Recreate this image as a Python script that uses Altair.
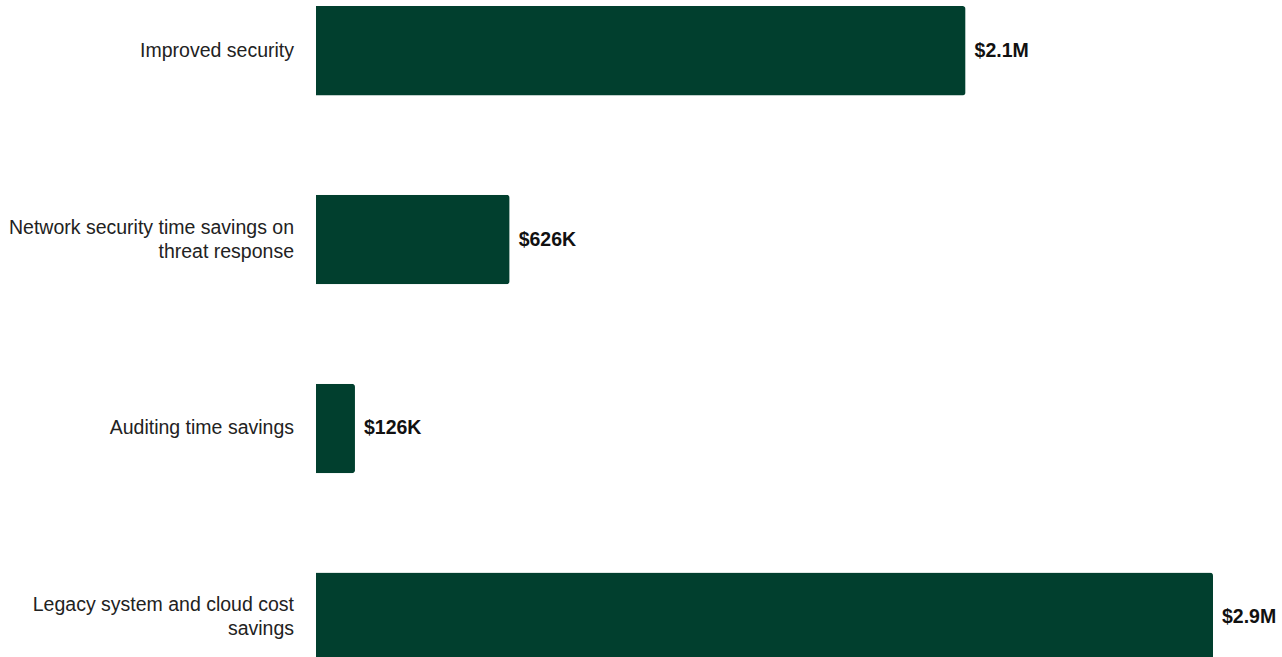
import altair as alt
import pandas as pd

categories = [
    "Improved security",
    "Network security time savings on\nthreat response",
    "Auditing time savings",
    "Legacy system and cloud cost\nsavings",
]
values = [2100000, 626000, 126000, 2900000]
value_labels = ["$2.1M", "$626K", "$126K", "$2.9M"]

df = pd.DataFrame({"category": categories, "value": values, "label": value_labels})
df["lines"] = df["category"].str.count("\n") + 1

y_enc = alt.Y(
    "category:N",
    sort=categories,
    axis=None,
    scale=alt.Scale(paddingInner=0.526, paddingOuter=0.032),
)

bars = alt.Chart(df).mark_bar(color="#013F2E", cornerRadiusEnd=3).encode(
    x=alt.X("value:Q", axis=None, scale=alt.Scale(domain=[0, 2900000], nice=False)),
    y=y_enc,
)

vals = alt.Chart(df).mark_text(
    align="left", baseline="middle", dx=9, fontSize=19.5, fontWeight="bold",
    font="Liberation Sans", color="#111111",
).encode(
    x=alt.X("value:Q"),
    y=y_enc,
    text="label:N",
)

cat_one = alt.Chart(df).transform_filter("datum.lines == 1").mark_text(
    align="right", baseline="middle", fontSize=19.5, font="Liberation Sans",
    color="#222222", lineBreak="\n", lineHeight=24,
).encode(
    x=alt.value(-22),
    y=y_enc,
    text="category:N",
)

cat_two = alt.Chart(df).transform_filter("datum.lines == 2").mark_text(
    align="right", baseline="middle", fontSize=19.5, font="Liberation Sans",
    color="#222222", lineBreak="\n", lineHeight=24, dy=-12,
).encode(
    x=alt.value(-22),
    y=y_enc,
    text="category:N",
)

chart = alt.layer(bars, vals, cat_one, cat_two).properties(
    width=897,
    height=668,
    autosize=alt.AutoSizeParams(type="none"),
    padding={"left": 316, "top": 0, "right": 69, "bottom": 0},
).configure_view(stroke=None)

chart.save("out.html", embed_options={"renderer": "svg", "actions": False})
